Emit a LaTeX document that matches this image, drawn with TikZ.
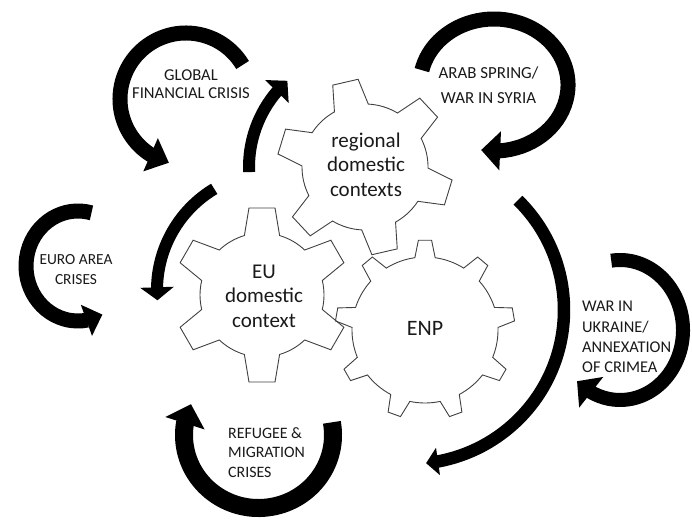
\documentclass[tikz,border=0pt]{standalone}
\usepackage{fontspec}
\setmainfont{Carlito}
\usetikzlibrary{arrows.meta,bending}

% cog outline: centre, teeth, first tooth angle, root radius, tip radius,
% half angle of tooth base, half angle of tooth tip
\newcommand{\cogwheel}[7]{%
  \draw[gearline, shift={(#1)}] ({#3-#6}:#4)
    \foreach \k in {1,...,#2}{
      -- ({#3+(\k-1)*360/#2-#7}:#5)
      -- ({#3+(\k-1)*360/#2+#7}:#5)
      -- ({#3+(\k-1)*360/#2+#6}:#4)
      arc[start angle={#3+(\k-1)*360/#2+#6}, end angle={#3+\k*360/#2-#6}, radius=#4]
    } -- cycle;}

\begin{document}
\begin{tikzpicture}[x=1pt,y=-1pt,
  gearline/.style={draw=black!75, line width=0.9pt, line join=miter},
  geartext/.style={align=center, inner sep=0pt, text=black!90,
    font=\fontsize{21}{24.5}\selectfont},
  crisis/.style={inner sep=0pt, text=black!90},
  crisis arrow/.style n args={3}{draw=black, line width=#1pt,
    -{Triangle[width=#2pt, length=#3pt, flex]}}]

\useasboundingbox (0,0) rectangle (692,519);

% gear centres
\coordinate (eu) at (262,295);
\coordinate (reg) at (365,167);
\coordinate (enp) at (425,330);

% the three cogs
\cogwheel{eu}{6}{-90}{62}{88}{16.5}{8.5}
\cogwheel{reg}{6}{-103}{63}{88}{16}{8.5}
\cogwheel{enp}{9}{-90}{73}{90}{8}{4.2}

\node[geartext] (eu text) at (264,296) {EU\\domestic\\context};
\node[geartext] (reg text) at (366,164.5) {regional\\domestic\\contexts};
\node[geartext, font=\fontsize{22}{24}\selectfont] (enp text) at (425,328.5) {ENP};

% crisis labels
\node[crisis, align=center, font=\fontsize{16.6}{18}\selectfont]
  (gfc text) at (191,84) {GLOBAL\\FINANCIAL CRISIS};
\node[crisis, align=center, font=\fontsize{16.9}{25}\selectfont]
  (arab text) at (488.5,85) {ARAB SPRING/\\WAR IN SYRIA};
\node[crisis, align=center, font=\fontsize{15.4}{20}\selectfont]
  (euro text) at (76,270) {EURO AREA\\CRISES};
\node[crisis, align=left, anchor=west, font=\fontsize{16.4}{20.3}\selectfont]
  (ukr text) at (582,337) {WAR IN\\UKRAINE/\\ANNEXATION\\OF CRIMEA};
\node[crisis, align=left, anchor=west, font=\fontsize{15.9}{19.5}\selectfont]
  (ref text) at (228,452.5) {REFUGEE \&\\MIGRATION\\CRISES};

% loop centres
\coordinate (gfc c) at (186,99);
\coordinate (arab c) at (494,85);
\coordinate (euro c) at (78,266);
\coordinate (ref c) at (258.5,435);
\coordinate (ukr c) at (620,330);

% loops round the crisis labels
\draw[crisis arrow={15}{35}{20}] ([shift={(-31:66)}]gfc c)
  arc[start angle=-31, end angle=-255, radius=66];
\draw[crisis arrow={15}{38}{19}] ([shift={(193:74 and 66)}]arab c)
  arc[start angle=193, end angle=460, x radius=74, y radius=66];
\draw[crisis arrow={15}{32}{17}] ([shift={(-75:52 and 55)}]euro c)
  arc[start angle=-75, end angle=-298, x radius=52, y radius=55];
\draw[crisis arrow={18}{40}{20}] ([shift={(-10:74.5 and 73)}]ref c)
  arc[start angle=-10, end angle=205, x radius=74.5, y radius=73];
\draw[crisis arrow={14}{38}{18}] ([shift={(-98:63 and 70)}]ukr c)
  arc[start angle=-98, end angle=133, x radius=63, y radius=70];

% arrows round the cogs
\coordinate (big c) at (410,310);
\coordinate (eu arc c) at (275,290);
\draw[crisis arrow={12}{32}{15}] ([shift={(177.5:116)}]reg)
  arc[start angle=177.5, end angle=228, radius=116];
\draw[crisis arrow={12}{33}{13}] ([shift={(239:118)}]eu arc c)
  arc[start angle=239, end angle=175, radius=118];
\draw[crisis arrow={12.5}{27}{12}] ([shift={(-45.5:154)}]big c)
  arc[start angle=-45.5, end angle=84, radius=154];

\end{tikzpicture}
\end{document}
